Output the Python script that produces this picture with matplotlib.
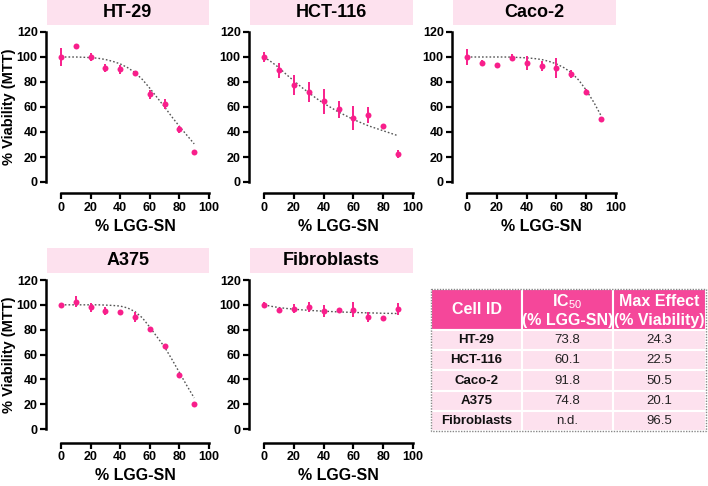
import numpy as np
import matplotlib
matplotlib.use("Agg")
import matplotlib.pyplot as plt
from matplotlib.patches import Rectangle

plt.rcParams['font.family'] = ['Liberation Sans', 'DejaVu Sans']
plt.rcParams['mathtext.fontset'] = 'custom'
plt.rcParams['mathtext.rm'] = 'Liberation Sans'
plt.rcParams['mathtext.bf'] = 'Liberation Sans:bold'

# data
conc = [0, 10, 20, 30, 40, 50, 60, 70, 80, 90]
fit_x = [0, 5, 10, 15, 20, 25, 30, 35, 40, 45, 50, 55, 60, 65, 70, 75, 80, 85, 90]

ht29_mean = [100, 108.5, 100, 91, 90, 87.5, 70, 62, 42, 24.3]
ht29_sd = [7, 1, 3.5, 3, 3.7, 1, 3.5, 4, 2.5, 1]
ht29_fit = [100, 100, 100, 99.8, 99.5, 99, 98, 96.5, 94.5, 91.5, 87.5, 82, 75, 67.5, 60, 52, 44.5, 37.5, 30.5]

hct116_mean = [100, 89.5, 77.5, 72, 64.5, 58, 51, 53.5, 44.5, 22.5]
hct116_sd = [4, 6, 8, 8, 10, 7, 9.5, 6.5, 2, 3]
hct116_fit = [100, 96, 91.5, 86, 81, 76, 71.5, 67, 63, 59.5, 56, 53, 50, 47.5, 45, 43, 41, 39, 37]

caco2_mean = [100, 95.5, 93.5, 99.5, 95, 93, 91, 86.5, 72, 50.5]
caco2_sd = [6.5, 2, 1, 3, 5.5, 4, 8, 3, 2.5, 1]
caco2_fit = [100, 100, 100, 100, 100, 100, 99.9, 99.6, 99.3, 98.8, 98, 96.5, 94.5, 91.5, 87.5, 81.5, 73.5, 64, 53]

a375_mean = [100, 102.5, 98, 95, 94, 90.5, 80.5, 66.5, 43.5, 20.1]
a375_sd = [1, 4.5, 3.5, 3, 1, 4, 1.5, 1, 1, 1]
a375_fit = [100, 100, 100, 100, 100, 100, 99.8, 99.5, 99, 97.5, 94.5, 89.5, 82, 74, 66, 56, 45.5, 35, 25]

fibro_mean = [100, 95.5, 97, 98, 95, 96, 96, 90, 89.5, 96.5]
fibro_sd = [2, 1, 3.5, 4, 4.5, 1, 6, 4, 1, 5]
fibro_fit = [100, 98.8, 97.8, 97.1, 96.5, 96, 95.6, 95.2, 94.9, 94.6, 94.3, 94.1, 93.9, 93.7, 93.5, 93.4, 93.2, 93.1, 93]

cell_ids = ["HT-29", "HCT-116", "Caco-2", "A375", "Fibroblasts"]
ic50 = ["73.8", "60.1", "91.8", "74.8", "n.d."]
max_effect = ["24.3", "22.5", "50.5", "20.1", "96.5"]

PINK = "#f81f8b"
BOX = "#fde1ee"
HEAD = "#f5479a"

W, H = 708, 486
fig = plt.figure(figsize=(7.08, 4.86), dpi=100)


def px_rect(x0, x100, y0, y120):
    return [x0 / W, 1 - y0 / H, (x100 - x0) / W, (y0 - y120) / H]


panels = [
    ("HT-29", ht29_mean, ht29_sd, ht29_fit, px_rect(61, 209, 182, 32), True, 11.5),
    ("HCT-116", hct116_mean, hct116_sd, hct116_fit, px_rect(264, 413, 182, 32), False, 11.5),
    ("Caco-2", caco2_mean, caco2_sd, caco2_fit, px_rect(467, 616, 182, 32), False, 11.5),
    ("A375", a375_mean, a375_sd, a375_fit, px_rect(61, 209, 429, 280), True, 13.5),
    ("Fibroblasts", fibro_mean, fibro_sd, fibro_fit, px_rect(264, 413, 429, 280), False, 13.5),
]

for name, mean, sd, fit, rect, ylab, xoff in panels:
    ax = fig.add_axes(rect)
    ax.plot(fit_x, fit, linestyle=(0, (1.2, 1.5)), color="#555555", lw=1.0, zorder=2)
    ax.errorbar(conc, mean, yerr=sd, fmt="o", color=PINK, ms=4.3, mew=0,
                elinewidth=1.4, capsize=2.3, capthick=1.4, zorder=3, clip_on=False)
    ax.set_xlim(0, 100)
    ax.set_ylim(0, 120)
    ax.set_xticks([0, 20, 40, 60, 80, 100])
    ax.set_yticks([0, 20, 40, 60, 80, 100, 120])
    for s in ["top", "right"]:
        ax.spines[s].set_visible(False)
    ax.spines["left"].set_position(("outward", 15 * 0.72))
    ax.spines["bottom"].set_position(("outward", xoff * 0.72))
    ax.spines["left"].set_bounds(0, 120)
    ax.spines["bottom"].set_bounds(0, 100)
    for s in ["left", "bottom"]:
        ax.spines[s].set_linewidth(1.8)
    ax.tick_params(width=1.6, length=4, labelsize=9, pad=2)
    for lab in ax.get_xticklabels() + ax.get_yticklabels():
        lab.set_fontweight("bold")
    ax.set_xlabel("% LGG-SN", fontsize=11.5, fontweight="bold", labelpad=4)
    if ylab:
        ax.set_ylabel("% Viability (MTT)", fontsize=10.5, fontweight="bold")
        ax.yaxis.set_label_coords(-0.305, 0.5)
    ax.patch.set_alpha(0)
    # title box
    ax.add_patch(Rectangle((-0.095, 1.047), 1.095, 0.167, transform=ax.transAxes,
                           facecolor=BOX, edgecolor="none", clip_on=False))
    ax.text(0.45, 1.047 + 0.167 / 2, name, transform=ax.transAxes, ha="center", va="center",
            fontsize=13, fontweight="bold")

# table
tx0, tx1, ty0, ty1 = 431, 706, 289, 431
tab = fig.add_axes([tx0 / W, 1 - ty1 / H, (tx1 - tx0) / W, (ty1 - ty0) / H])
tab.set_xlim(0, tx1 - tx0)
tab.set_ylim(ty1 - ty0, 0)
tab.axis("off")
col_edges = [0, 91, 182, 275]
head_h = 41
row_h = (ty1 - ty0 - head_h) / len(cell_ids)

for c in range(3):
    tab.add_patch(Rectangle((col_edges[c], 0), col_edges[c + 1] - col_edges[c], head_h,
                            facecolor=HEAD, edgecolor="white", lw=1.5))
    for r in range(len(cell_ids)):
        tab.add_patch(Rectangle((col_edges[c], head_h + r * row_h), col_edges[c + 1] - col_edges[c],
                                row_h, facecolor=BOX, edgecolor="white", lw=1.5))
tab.add_patch(Rectangle((0, 0), 275, ty1 - ty0, facecolor="none", edgecolor="#888888",
                        lw=1.0, linestyle=(0, (1, 1)), clip_on=False))

cx = [(col_edges[i] + col_edges[i + 1]) / 2 for i in range(3)]
tab.text(cx[0], head_h / 2, "Cell ID", ha="center", va="center", color="white",
         fontsize=11.5, fontweight="bold")
tab.text(cx[1], 13, r"$\mathbf{IC}_{\mathrm{50}}$", ha="center", va="center", color="white", fontsize=11.5)
tab.text(cx[1], 31, "(% LGG-SN)", ha="center", va="center", color="white", fontsize=11.5, fontweight="bold")
tab.text(cx[2], 13, "Max Effect", ha="center", va="center", color="white", fontsize=11.5, fontweight="bold")
tab.text(cx[2], 31, "(% Viability)", ha="center", va="center", color="white", fontsize=11.5, fontweight="bold")

for r, (cid, ic, me) in enumerate(zip(cell_ids, ic50, max_effect)):
    yc = head_h + (r + 0.5) * row_h
    tab.text(cx[0], yc, cid, ha="center", va="center", fontsize=9.5, fontweight="bold", color="#111111")
    tab.text(cx[1], yc, ic, ha="center", va="center", fontsize=9.5, color="#222222")
    tab.text(cx[2], yc, me, ha="center", va="center", fontsize=9.5, color="#222222")

fig.savefig("out.png", dpi=100)
